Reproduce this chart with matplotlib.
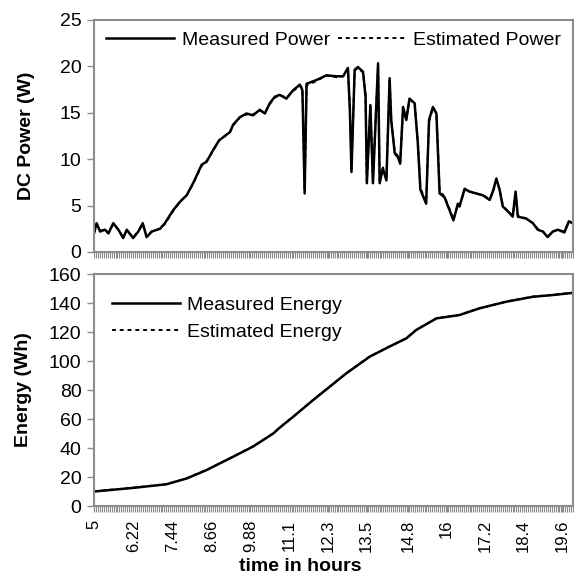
import matplotlib
matplotlib.use("Agg")
import matplotlib.pyplot as plt
import numpy as np

plt.rcParams['font.family'] = ['Liberation Sans', 'DejaVu Sans']

# time (hours) and DC power (W)
t_power = [5.00, 5.08, 5.19, 5.34, 5.45, 5.60, 5.76, 5.91, 6.02, 6.22, 6.38, 6.52,
           6.64, 6.80, 7.06, 7.21, 7.47, 7.68, 7.89, 8.09, 8.36, 8.51, 8.72, 8.90,
           9.24, 9.34, 9.55, 9.76, 9.96, 10.17, 10.33, 10.48, 10.64, 10.79, 11.00,
           11.21, 11.42, 11.50, 11.57, 11.63, 11.94, 12.25, 12.56, 12.77, 12.92,
           12.98, 13.03, 13.13, 13.23, 13.39, 13.47, 13.51, 13.62, 13.70, 13.86,
           13.91, 14.01, 14.12, 14.22, 14.27, 14.38, 14.48, 14.55, 14.64, 14.74,
           14.84, 15.00, 15.10, 15.18, 15.36, 15.45, 15.57, 15.68, 15.73, 15.78,
           15.93, 16.09, 16.21, 16.35, 16.40, 16.56, 16.71, 16.92, 17.13, 17.34,
           17.44, 17.55, 17.65, 17.75, 17.96, 18.06, 18.15, 18.22, 18.48, 18.69,
           18.84, 19.00, 19.15, 19.31, 19.47, 19.67, 19.81, 19.94]
p_measured = [2.0, 3.1, 2.2, 2.4, 2.0, 3.1, 2.4, 1.5, 2.4, 1.5, 2.2, 3.1,
              1.6, 2.2, 2.5, 3.1, 4.5, 5.4, 6.1, 7.4, 9.4, 9.7, 11.0, 12.0,
              12.9, 13.7, 14.5, 14.9, 14.7, 15.3, 14.9, 16.0, 16.7, 16.9, 16.5,
              17.4, 18.0, 17.4, 6.3, 18.1, 18.5, 19.0, 18.9, 18.9, 19.8,
              15.3, 8.6, 19.6, 19.9, 19.4, 16.7, 7.4, 15.8, 7.4, 20.3,
              7.4, 9.0, 7.7, 18.7, 14.2, 10.6, 10.2, 9.5, 15.6, 14.2,
              16.5, 16.0, 11.7, 6.7, 5.2, 14.2, 15.6, 14.9, 10.6, 6.3,
              5.9, 4.5, 3.4, 5.2, 4.9, 6.8, 6.5, 6.3, 6.1, 5.6,
              6.5, 7.9, 6.7, 4.9, 4.2, 3.8, 6.5, 3.8, 3.6, 3.1,
              2.4, 2.2, 1.6, 2.2, 2.4, 2.1, 3.3, 3.1]
p_estimated = [2.1, 3.0, 2.3, 2.4, 2.1, 3.0, 2.4, 1.6, 2.3, 1.6, 2.2, 3.0,
               1.7, 2.2, 2.5, 3.0, 4.4, 5.4, 6.1, 7.3, 9.3, 9.8, 10.9, 12.0,
               12.9, 13.6, 14.5, 14.8, 14.8, 15.2, 15.0, 15.9, 16.6, 16.9, 16.6,
               17.3, 17.9, 17.6, 6.6, 17.9, 18.4, 19.0, 18.8, 18.9, 19.7,
               15.6, 8.9, 19.5, 19.8, 19.3, 17.0, 7.6, 15.6, 7.6, 20.1,
               7.6, 9.1, 7.9, 18.5, 14.4, 10.8, 10.3, 9.7, 15.4, 14.3,
               16.4, 16.0, 11.9, 6.9, 5.4, 14.0, 15.5, 14.9, 10.9, 6.5,
               6.0, 4.6, 3.5, 5.1, 4.9, 6.7, 6.5, 6.3, 6.1, 5.7,
               6.4, 7.7, 6.8, 5.0, 4.2, 3.9, 6.3, 3.9, 3.6, 3.1,
               2.5, 2.2, 1.7, 2.2, 2.4, 2.2, 3.2, 3.1]

# cumulative energy (Wh)
t_energy = [5.00, 6.22, 7.26, 7.89, 8.51, 9.34, 9.96, 10.59, 10.79, 11.21, 11.83,
            12.87, 13.60, 14.22, 14.74, 15.05, 15.68, 16.40, 17.02, 17.86, 18.69,
            19.31, 19.94]
e_measured = [10.0, 12.5, 15.0, 19.0, 24.8, 34.0, 41.0, 50.0, 54.0, 61.5, 73.0,
              91.5, 103.0, 110.0, 115.6, 121.4, 129.4, 131.7, 136.3, 140.9, 144.3,
              145.5, 147.0]
e_estimated = [10.2, 12.6, 15.1, 19.1, 24.9, 34.1, 41.1, 50.1, 54.1, 61.6, 73.1,
               91.6, 103.1, 110.1, 115.7, 121.5, 129.5, 131.8, 136.4, 141.0, 144.4,
               145.6, 147.1]

tick_vals = [5, 6.22, 7.44, 8.66, 9.88, 11.1, 12.3, 13.5, 14.8, 16, 17.2, 18.4, 19.6]
tick_labels = ['5', '6.22', '7.44', '8.66', '9.88', '11.1', '12.3', '13.5',
               '14.8', '16', '17.2', '18.4', '19.6']

gray = '#8c8c8c'
fs = 14

fig = plt.figure(figsize=(5.74, 5.76), dpi=100)
ax1 = fig.add_axes([0.1638, 0.5625, 0.835, 0.4035])
ax2 = fig.add_axes([0.1638, 0.1215, 0.835, 0.4028])

ax1.plot(t_power, p_measured, color='black', lw=1.8, label='Measured Power')
ax1.plot(t_power, p_estimated, color='black', lw=1.4, ls=(0, (2, 2)),
         label='Estimated Power')
ax2.plot(t_energy, e_measured, color='black', lw=1.8, label='Measured Energy')
ax2.plot(t_energy, e_estimated, color='black', lw=1.4, ls=(0, (2, 2)),
         label='Estimated Energy')

ax1.set_ylim(0, 25)
ax1.set_yticks([0, 5, 10, 15, 20, 25])
ax2.set_ylim(0, 160)
ax2.set_yticks(range(0, 161, 20))

minor = np.arange(5, 19.95, 0.061)
for ax in (ax1, ax2):
    ax.set_xlim(5, 19.95)
    ax.set_xticks(minor, minor=True)
    ax.set_xticks(tick_vals)
    for s in ax.spines.values():
        s.set_color(gray)
        s.set_linewidth(1.5)
    ax.tick_params(axis='y', direction='out', length=5, width=1, color=gray,
                   labelsize=fs, pad=4)
    ax.tick_params(axis='x', which='both', direction='out', length=4, width=0.8,
                   color=gray, pad=6)

ax1.set_xticklabels([])
ax2.set_xticklabels(tick_labels, rotation=90, fontsize=12,
                    family=['Liberation Sans Narrow', 'Liberation Sans'])

ax1.set_ylabel('DC Power (W)', fontsize=fs, fontweight='bold', labelpad=18)
ax2.set_ylabel('Energy (Wh)', fontsize=fs, fontweight='bold', labelpad=12)
ax2.set_xlabel('time in hours', fontsize=fs, fontweight='bold')
ax2.xaxis.set_label_coords(0.43, -0.222)

ax1.legend(loc='upper left', ncol=2, frameon=False, fontsize=fs,
           handlelength=3.5, handletextpad=0.4, columnspacing=0.4,
           borderaxespad=0.2, bbox_to_anchor=(0.0, 1.0))
ax2.legend(loc='upper left', frameon=False, fontsize=fs,
           handlelength=3.5, handletextpad=0.4, labelspacing=0.5,
           borderaxespad=0.5, bbox_to_anchor=(0.0, 0.98))

fig.savefig('out.png', dpi=100)
